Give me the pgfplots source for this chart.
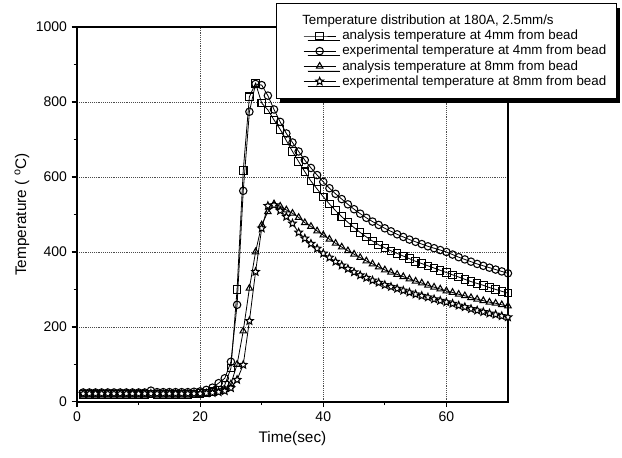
\documentclass[border=0pt]{standalone}
\usepackage{fontspec}
\setmainfont{Liberation Sans}
\usepackage{pgfplots}
\pgfplotsset{compat=1.18}
\usetikzlibrary{shadows}

% open five-pointed star for the 8 mm experiment
\pgfdeclareplotmark{ostar}{%
  \pgfpathmoveto{\pgfqpointpolar{90}{\pgfplotmarksize}}%
  \pgfpathlineto{\pgfqpointpolar{126}{0.45\pgfplotmarksize}}%
  \pgfpathlineto{\pgfqpointpolar{162}{\pgfplotmarksize}}%
  \pgfpathlineto{\pgfqpointpolar{198}{0.45\pgfplotmarksize}}%
  \pgfpathlineto{\pgfqpointpolar{234}{\pgfplotmarksize}}%
  \pgfpathlineto{\pgfqpointpolar{270}{0.45\pgfplotmarksize}}%
  \pgfpathlineto{\pgfqpointpolar{306}{\pgfplotmarksize}}%
  \pgfpathlineto{\pgfqpointpolar{342}{0.45\pgfplotmarksize}}%
  \pgfpathlineto{\pgfqpointpolar{18}{\pgfplotmarksize}}%
  \pgfpathlineto{\pgfqpointpolar{54}{0.45\pgfplotmarksize}}%
  \pgfpathclose
  \pgfusepathqfillstroke
}

% analysis, 4 mm (squares)
\pgfplotstableread{
t T
1 20
2 20
3 20
4 20
5 20
6 20
7 20
8 20
9 20
10 20
11 20
12 21
13 20
14 20
15 20
16 20
17 20
18 20
19 21
20 22
21 24
22 27
23 32
24 45
25 90
26 300
27 617
28 814
29 850
30 797
31 779
32 752
33 727
34 697
35 668
36 641
37 614
38 589
39 568
40 547
41 528
42 510
43 494
44 479
45 465
46 452
47 440
48 429
49 419
50 411
51 403
52 396
53 389
54 382
55 375
56 369
57 363
58 357
59 351
60 345
61 339
62 333
63 327
64 321
65 316
66 311
67 305
68 300
69 295
70 290
}\anafour

% experiment, 4 mm (circles)
\pgfplotstableread{
t T
1 25
2 25
3 25
4 25
5 25
6 25
7 25
8 25
9 25
10 25
11 25
12 30
13 26
14 26
15 26
16 26
17 26
18 26
19 27
20 28
21 32
22 38
23 50
24 63
25 107
26 259
27 563
28 774
29 848
30 845
31 817
32 780
33 747
34 716
35 692
36 668
37 645
38 624
39 605
40 587
41 570
42 555
43 541
44 527
45 514
46 502
47 491
48 481
49 472
50 463
51 455
52 447
53 440
54 433
55 427
56 421
57 415
58 410
59 405
60 400
61 393
62 386
63 380
64 374
65 368
66 363
67 358
68 353
69 348
70 343
}\expfour

% analysis, 8 mm (triangles)
\pgfplotstableread{
t T
1 18
2 18
3 18
4 18
5 18
6 18
7 18
8 18
9 18
10 18
11 18
12 18
13 18
14 18
15 18
16 18
17 18
18 18
19 18
20 20
21 22
22 24
23 27
24 33
25 48
26 100
27 189
28 303
29 400
30 472
31 507
32 528
33 522
34 512
35 503
36 492
37 478
38 468
39 456
40 445
41 434
42 423
43 413
44 403
45 394
46 385
47 376
48 368
49 360
50 352
51 346
52 340
53 334
54 328
55 322
56 317
57 311
58 306
59 301
60 296
61 292
62 287
63 283
64 278
65 274
66 270
67 266
68 263
69 259
70 256
}\anaeight

% experiment, 8 mm (stars)
\pgfplotstableread{
t T
1 22
2 22
3 22
4 22
5 22
6 22
7 22
8 22
9 22
10 22
11 22
12 22
13 22
14 22
15 22
16 22
17 22
18 22
19 22
20 22
21 23
22 24
23 26
24 29
25 37
26 59
27 99
28 216
29 347
30 463
31 523
32 525
33 510
34 494
35 476
36 452
37 436
38 422
39 409
40 396
41 385
42 374
43 364
44 355
45 346
46 338
47 331
48 324
49 318
50 312
51 307
52 302
53 297
54 292
55 287
56 283
57 279
58 274
59 270
60 266
61 262
62 257
63 253
64 248
65 244
66 240
67 236
68 233
69 229
70 226
}\expeight

\begin{document}
\begin{tikzpicture}
\begin{axis}[
    scale only axis,
    width=323pt, height=281pt,
    xmin=0, xmax=70,
    ymin=0, ymax=1000,
    xtick={0,20,40,60},
    ytick={0,200,400,600,800,1000},
    minor tick num=1,
    tick align=outside,
    xtick pos=left, ytick pos=left,
    major tick length=4pt, minor tick length=2.5pt,
    axis line style={line width=1.2pt},
    every tick/.style={line width=0.9pt, black},
    grid=major,
    major grid style={densely dotted, line width=0.5pt, black!70},
    /pgf/number format/assume math mode=true,
    /pgf/number format/1000 sep={},
    tick label style={font=\fontsize{10.5}{12}\selectfont},
    xlabel={Time(sec)},
    ylabel={Temperature ( \textsuperscript{o}C)},
    label style={font=\fontsize{11.5}{13}\selectfont},
    xlabel style={yshift=0pt},
    ylabel style={yshift=-2pt},
    legend cell align=left,
    legend style={
        at={(1.253,1.064)}, anchor=north east,
        draw=black, line width=0.8pt,
        fill=white,
        drop shadow={fill=black, opacity=1, shadow xshift=3pt, shadow yshift=-3.5pt},
        font=\fontsize{10}{11}\selectfont,
        row sep=-0.6pt,
        inner xsep=6pt, inner ysep=7pt,
        nodes={inner sep=1.6pt},
    },
    legend image code/.code={%
        \path (-0.5cm,0cm) (0.95cm,0cm);
        \draw[mark repeat=2, mark phase=2]
            plot coordinates {(0cm,0cm) (0.42cm,0cm) (0.84cm,0cm)};},
    legend image post style={line width=0.6pt},
    every axis plot/.append style={line width=0.6pt, black, mark size=2.8pt,
        mark options={solid, fill=white, line width=0.8pt}},
]
\coordinate (bl) at (rel axis cs:0,0);
\coordinate (tr) at (rel axis cs:1,1);
\addlegendimage{empty legend}
\addlegendentry{\hspace{-30pt}Temperature distribution at 180A, 2.5mm/s}
\addplot[mark=square] table[x=t, y=T] {\anafour};
\addlegendentry{analysis temperature at 4mm from bead}
\addplot[mark=o] table[x=t, y=T] {\expfour};
\addlegendentry{experimental temperature at 4mm from bead}
\addplot[mark=triangle] table[x=t, y=T] {\anaeight};
\addlegendentry{analysis temperature at 8mm from bead}
\addplot[mark=ostar, mark size=3pt] table[x=t, y=T] {\expeight};
\addlegendentry{experimental temperature at 8mm from bead}
\end{axis}
\pgfresetboundingbox
\path ([shift={(-57.75pt,-42pt)}]bl) rectangle ([shift={(85.5pt,20.25pt)}]tr);
\end{tikzpicture}
\end{document}
